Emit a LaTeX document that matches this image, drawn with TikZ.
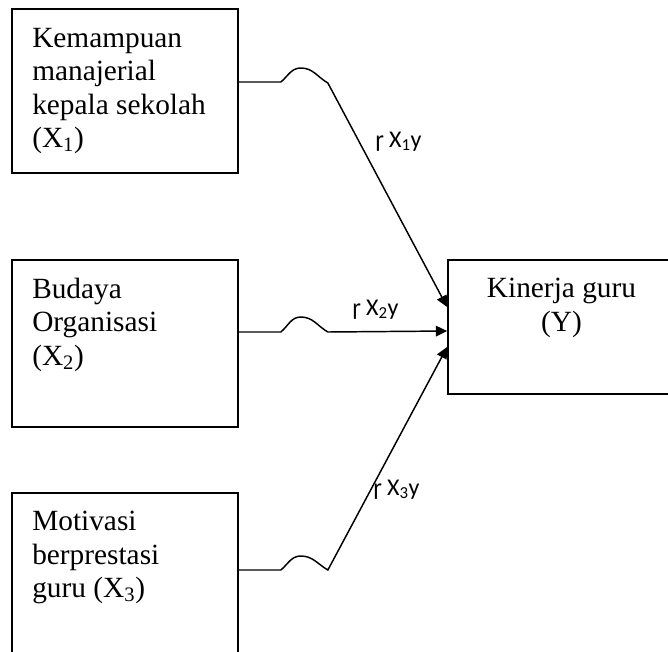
\documentclass[tikz,border=0pt]{standalone}
\usepackage{fontspec}
\setmainfont{Liberation Serif}
\newfontfamily\koeffont{Carlito}
\usetikzlibrary{arrows.meta,calc}

\begin{document}
\begin{tikzpicture}[x=0.75pt,y=-0.75pt,
        kotak/.style={draw,line width=1.3pt,minimum width=169.5pt,inner sep=0pt},
        isi/.style={anchor=north west,inner sep=0pt,align=left,font=\fontsize{22}{25}\selectfont},
        jalur/.style={line width=1.1pt,-{Triangle[length=8.5pt,width=8pt]}},
        koef/.style={anchor=base west,inner sep=0pt,font=\koeffont\fontsize{18}{20}\selectfont}]
            \useasboundingbox (0,0) rectangle (668,651);

            \node[kotak,minimum height=123pt] (x1) at (125,91) {};
            \node[kotak,minimum height=125.25pt] (x2) at (125,343.5) {};
            \node[kotak,minimum height=125.25pt] (x3) at (125,576.5) {};
            \node[kotak,minimum width=181.5pt,minimum height=100.5pt] (y) at (569,327) {};

            \node[isi] (tx1) at (32,28) {Kemampuan\\manajerial\\kepala sekolah\\(X\textsubscript{1})};
            \node[isi] (tx2) at (32,278) {Budaya\\Organisasi\\(X\textsubscript{2})};
            \node[isi] (tx3) at (32,511) {Motivasi\\berprestasi\\guru (X\textsubscript{3})};
            \node[isi,anchor=north,align=center] (ty) at (561.5,278) {Kinerja guru\\(Y)};

            \draw[jalur] ($(x1.east)+(0,-9)$) -- ++(42,0) to[out=40,in=180] ++(20,-14) to[out=0,in=150] ++(27,15) -- ($(y.west)+(0,-20)$);
            \draw[jalur] ($(x2.east)+(0,-11.5)$) -- ++(42,0) to[out=40,in=180] ++(20,-15) to[out=0,in=150] ++(27,15) -- ($(y.west)+(0,4)$);
            \draw[jalur] ($(x3.east)+(0,-6.5)$) -- ++(42,0) to[out=40,in=180] ++(20,-14) to[out=0,in=150] ++(27,14) -- ($(y.west)+(0,20)$);

            \node[koef] (k1) at (375,147) {ɼ X\textsubscript{1}y};
            \node[koef] (k2) at (352,315) {ɼ X\textsubscript{2}y};
            \node[koef] (k3) at (373,495) {ɼ X\textsubscript{3}y};
        \end{tikzpicture}
\end{document}
